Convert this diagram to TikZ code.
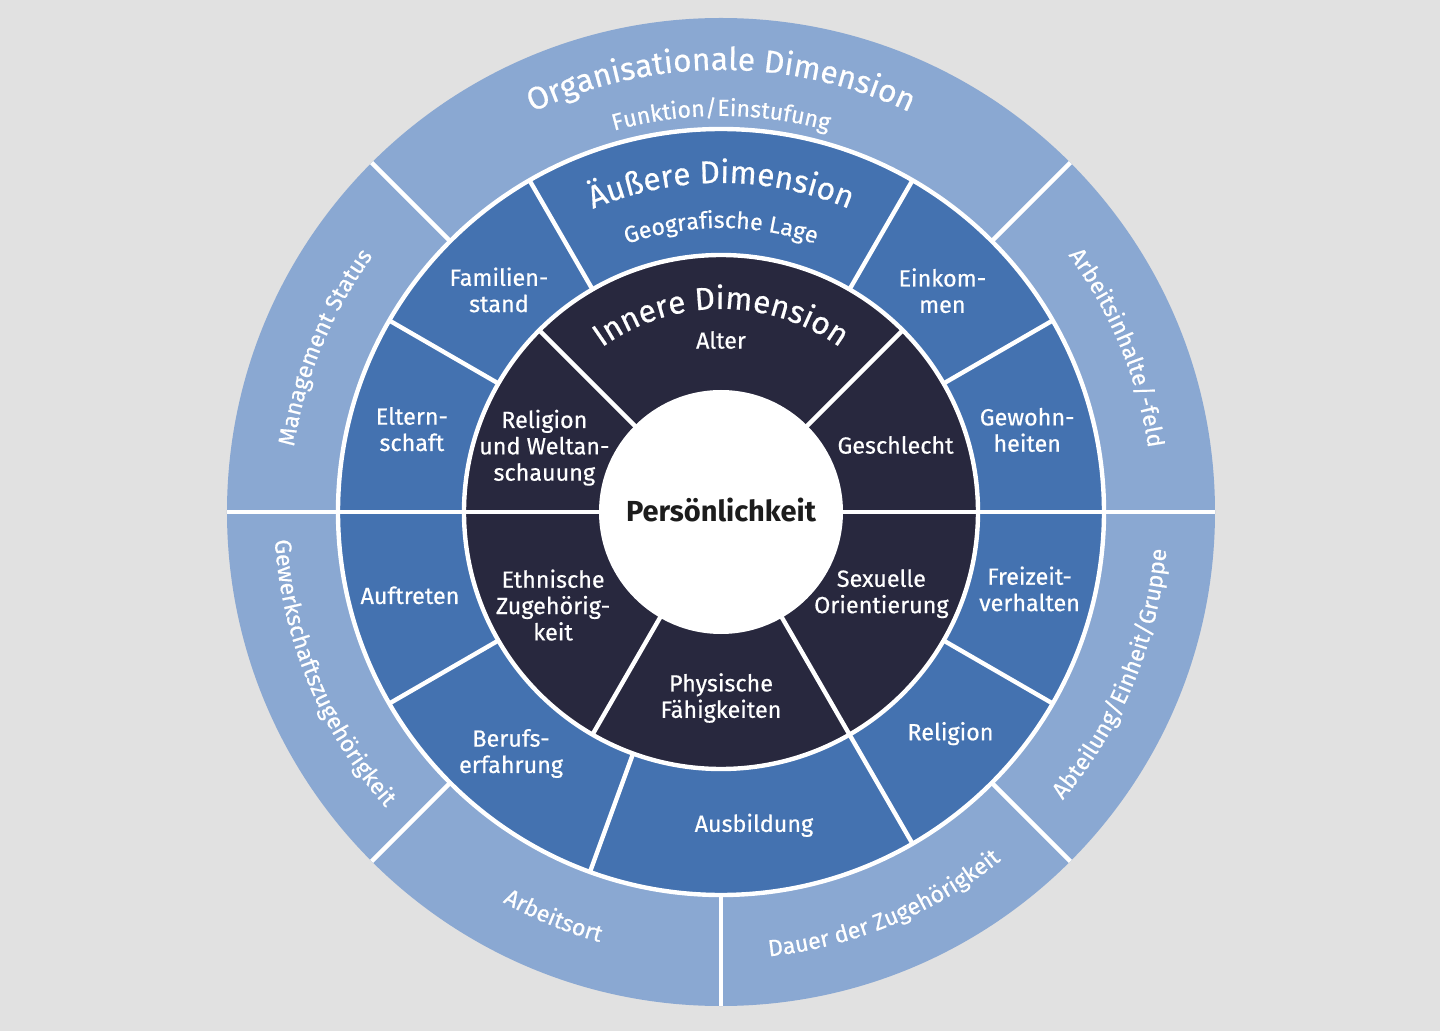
\documentclass[tikz,border=0pt]{standalone}
\usepackage{fontspec}
\setmainfont{Fira Sans}[UprightFeatures={FakeBold=0.5}]
\definecolor{ringouter}{HTML}{8AA8D2}
\definecolor{ringmid}{HTML}{4472B0}
\definecolor{ringinner}{HTML}{28283E}
\definecolor{bggray}{HTML}{E1E1E1}
\definecolor{corefont}{HTML}{1C1C1C}
\usetikzlibrary{decorations.text}
\newcommand{\labelfont}{\fontsize{13.3}{15}\selectfont}
\newcommand{\ringfont}{\fontsize{13.2}{15}\selectfont}
\newcommand{\titlefont}{\fontsize{18}{21}\selectfont}
\newcommand{\innerfont}{\fontsize{18}{21}\selectfont}
\newcommand{\subfont}{\fontsize{13.2}{15}\selectfont}

\begin{document}
\begin{tikzpicture}[x=0.02cm, y=0.02cm,
  sep/.style={draw=white, line width=2.5pt},
  lbl/.style={text=white, align=center, font=\labelfont, inner sep=0pt},
  arctext/.style={decorate, decoration={text along path, text align=center, text color=white, text={#1}}}]
\fill[bggray] (-721,-519) rectangle (719,512);
% rings
\fill[ringouter] (0,0) circle (494);
\fill[ringmid] (0,0) circle (383);
\fill[ringinner] (0,0) circle (257);
\draw[sep] (0,0) circle (383);
\draw[sep] (0,0) circle (257);
\fill[white] (0,0) circle (122);
% separators
\foreach \a in {0,45,135,180,225,270,315} \draw[sep] (\a:383) -- (\a:494);
\foreach \a in {0,30,60,120,150,180,210,250,300,330} \draw[sep] (\a:257) -- (\a:383);
\foreach \a in {0,45,135,180,240,300} \draw[sep] (\a:120) -- (\a:257);

% outer ring
\path[arctext={|\titlefont|Organisationale Dimension}] (150:442) arc[start angle=150, end angle=30, radius=442];
\path[arctext={|\subfont|Funktion/Einstufung}] (150:396) arc[start angle=150, end angle=30, radius=396];
\path[arctext={|\ringfont|Management Status}] (197.5:432) arc[start angle=197.5, end angle=117.5, radius=432];
\path[arctext={|\ringfont|Arbeitsinhalte/-feld}] (62.5:432) arc[start angle=62.5, end angle=-17.5, radius=432];
\path[arctext={|\ringfont|Gewerkschaftszugehörigkeit}] (162.5:447) arc[start angle=162.5, end angle=242.5, radius=447];
\path[arctext={|\ringfont|Arbeitsort}] (207.5:447) arc[start angle=207.5, end angle=287.5, radius=447];
\path[arctext={|\ringfont|Dauer der Zugehörigkeit}] (252.5:447) arc[start angle=252.5, end angle=332.5, radius=447];
\path[arctext={|\ringfont|Abteilung/Einheit/Gruppe}] (297.5:447) arc[start angle=297.5, end angle=377.5, radius=447];

% middle ring
\path[arctext={|\titlefont|Äußere Dimension}] (150:329) arc[start angle=150, end angle=30, radius=329];
\path[arctext={|\subfont|Geografische Lage}] (150:284) arc[start angle=150, end angle=30, radius=284];
\node[lbl] (familienstand) at (135:314) {Familien-\\stand};
\node[lbl] (elternschaft) at (165:320) {Eltern-\\schaft};
\node[lbl] (einkommen) at (45:313) {Einkom-\\men};
\node[lbl] (gewohnheiten) at (15:317) {Gewohn-\\heiten};
\node[lbl] (auftreten) at (195:322) {Auftreten};
\node[lbl] (berufserfahrung) at (229:320) {Berufs-\\erfahrung};
\node[lbl] (ausbildung) at (276:315) {Ausbildung};
\node[lbl] (religion) at (316:319) {Religion};
\node[lbl] (freizeit) at (346:318) {Freizeit-\\verhalten};

% inner ring
\path[arctext={|\innerfont|Innere Dimension}] (150:203) arc[start angle=150, end angle=30, radius=203];
\node[lbl, font=\subfont] (alter) at (90:172) {Alter};
\node[lbl] (weltanschauung) at (160:188) {Religion\\und Weltan-\\schauung};
\node[lbl] (geschlecht) at (21:187) {Geschlecht};
\node[lbl] (ethnie) at (209:192) {Ethnische\\Zugehörig-\\keit};
\node[lbl] (physis) at (270:186) {Physische\\Fähigkeiten};
\node[lbl] (orientierung) at (333:180) {Sexuelle\\Orientierung};

% core
\node[text=corefont, font=\fontsize{16.5}{19}\selectfont\bfseries, inner sep=0pt, anchor=base] (persoenlichkeit) at (0,-10) {Persönlichkeit};
\end{tikzpicture}
\end{document}
